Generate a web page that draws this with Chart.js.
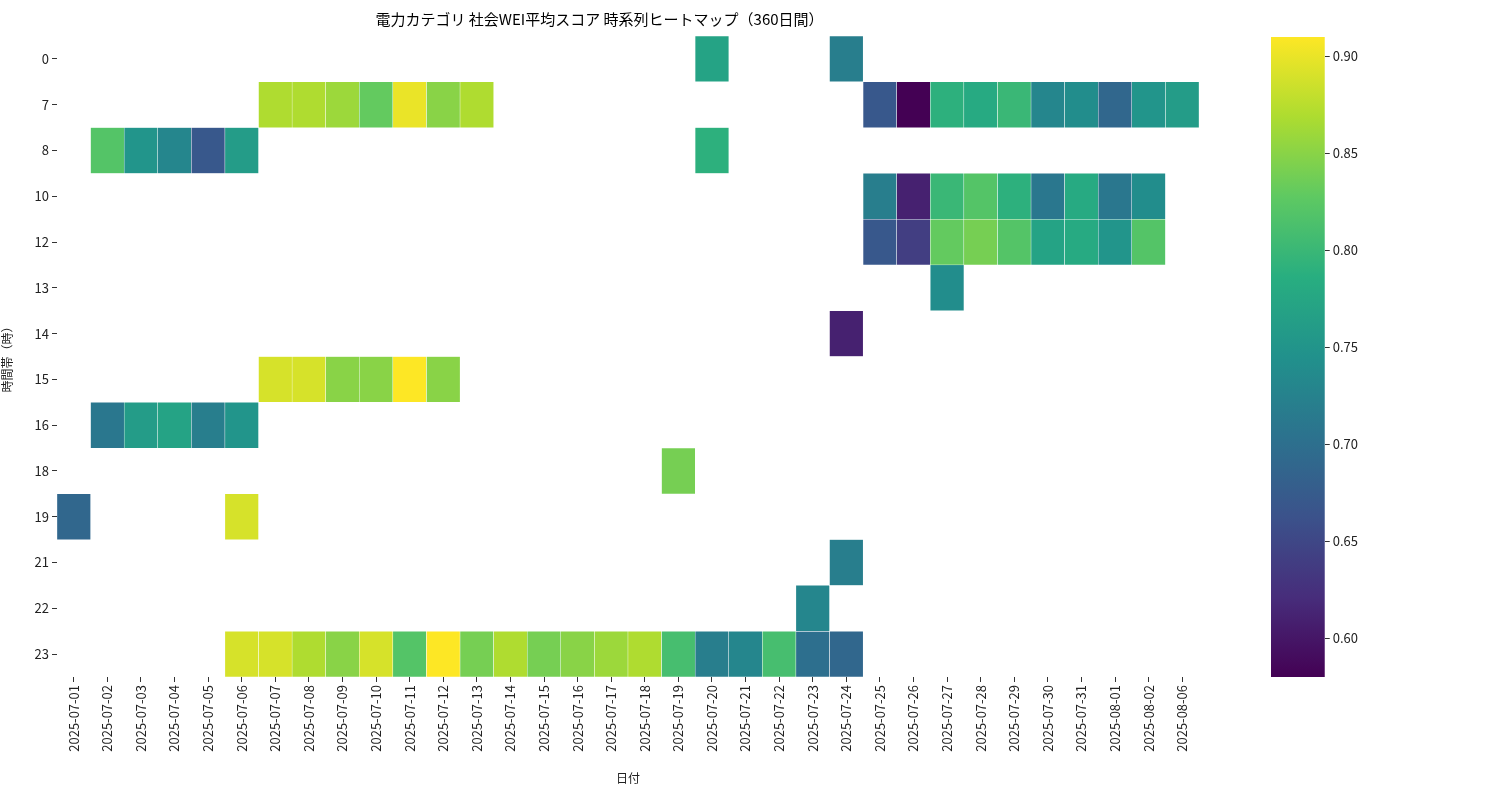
<!DOCTYPE html>
<html><head><meta charset="utf-8">
<script src="https://cdn.jsdelivr.net/npm/chart.js@4"></script>
<style>body{margin:0;background:#fff;font-family:"Noto Sans CJK JP",sans-serif}
#m{position:absolute;left:0;top:0;width:1225px;height:800px}
#c{position:absolute;left:1271px;top:0;width:90px;height:800px}</style>
</head><body>
<div id="m"><canvas id="mc"></canvas></div>
<div id="c"><canvas id="cc"></canvas></div>
<script>
const dates=["2025-07-01","2025-07-02","2025-07-03","2025-07-04","2025-07-05","2025-07-06","2025-07-07","2025-07-08","2025-07-09","2025-07-10","2025-07-11","2025-07-12","2025-07-13","2025-07-14","2025-07-15","2025-07-16","2025-07-17","2025-07-18","2025-07-19","2025-07-20","2025-07-21","2025-07-22","2025-07-23","2025-07-24","2025-07-25","2025-07-26","2025-07-27","2025-07-28","2025-07-29","2025-07-30","2025-07-31","2025-08-01","2025-08-02","2025-08-06"];
const hours=["0","7","8","10","12","13","14","15","16","18","19","21","22","23"];
const h0=[["07-20",0.77],["07-24",0.72]];
const h7=[["07-07",0.87],["07-08",0.87],["07-09",0.86],["07-10",0.83],["07-11",0.90],["07-12",0.85],["07-13",0.87],["07-25",0.67],["07-26",0.58],["07-27",0.79],["07-28",0.78],["07-29",0.80],["07-30",0.73],["07-31",0.74],["08-01",0.69],["08-02",0.75],["08-06",0.76]];
const h8=[["07-02",0.82],["07-03",0.75],["07-04",0.73],["07-05",0.67],["07-06",0.76],["07-20",0.79]];
const h10=[["07-25",0.72],["07-26",0.61],["07-27",0.80],["07-28",0.82],["07-29",0.79],["07-30",0.71],["07-31",0.78],["08-01",0.71],["08-02",0.74]];
const h12=[["07-25",0.67],["07-26",0.64],["07-27",0.83],["07-28",0.84],["07-29",0.82],["07-30",0.77],["07-31",0.78],["08-01",0.75],["08-02",0.82]];
const h13=[["07-27",0.74]];
const h14=[["07-24",0.61]];
const h15=[["07-07",0.89],["07-08",0.89],["07-09",0.85],["07-10",0.85],["07-11",0.91],["07-12",0.85]];
const h16=[["07-02",0.71],["07-03",0.76],["07-04",0.77],["07-05",0.72],["07-06",0.75]];
const h18=[["07-19",0.84]];
const h19=[["07-01",0.69],["07-06",0.89]];
const h21=[["07-24",0.72]];
const h22=[["07-23",0.73]];
const h23=[["07-06",0.89],["07-07",0.89],["07-08",0.87],["07-09",0.85],["07-10",0.89],["07-11",0.82],["07-12",0.91],["07-13",0.84],["07-14",0.87],["07-15",0.84],["07-16",0.85],["07-17",0.86],["07-18",0.87],["07-19",0.81],["07-20",0.72],["07-21",0.73],["07-22",0.81],["07-23",0.70],["07-24",0.69]];
const rows=[h0,h7,h8,h10,h12,h13,h14,h15,h16,h18,h19,h21,h22,h23];
const vmin=0.58,vmax=0.91;
const stops=["#440154","#472d7b","#3b528b","#2c728e","#21918c","#28ae80","#5ec962","#addc30","#fde725"];
function hex(h){return [1,3,5].map(i=>parseInt(h.substr(i,2),16));}
function viridis(v){let t=Math.max(0,Math.min(1,(v-vmin)/(vmax-vmin)))*8;let i=Math.min(7,Math.floor(t)),f=t-i;const a=hex(stops[i]),b=hex(stops[i+1]);return `rgb(${a.map((x,k)=>Math.round(x+(b[k]-x)*f)).join(',')})`;}
const font={family:"'Noto Sans CJK JP', sans-serif",size:13};
Chart.defaults.color='#222';
const datasets=rows.map((r,ri)=>{
  const vals=dates.map(d=>{const e=r.find(p=>"2025-"+p[0]===d);return e?e[1]:null;});
  return {label:hours[ri],data:vals.map(v=>v==null?null:[ri-0.5,ri+0.5]),
    backgroundColor:vals.map(v=>v==null?'rgba(0,0,0,0)':viridis(v)),
    borderColor:'#fff',borderWidth:0.5,borderSkipped:false,barPercentage:1,categoryPercentage:1,grouped:false};
});
new Chart(document.getElementById('mc'),{type:'bar',data:{labels:dates,datasets},
options:{responsive:true,maintainAspectRatio:false,animation:false,
 layout:{padding:{left:0,right:26,top:0,bottom:0}},
 plugins:{legend:{display:false},tooltip:{enabled:false},
  title:{display:true,text:"電力カテゴリ 社会WEI平均スコア 時系列ヒートマップ（360日間）",font:{...font,size:15,weight:'normal'},color:'#000',padding:{top:10,bottom:8}}},
 scales:{
  x:{offset:true,grid:{offset:false,drawOnChartArea:false,tickLength:5,color:'#333'},border:{display:false},afterFit:s=>{s.height=123;},
     ticks:{font,minRotation:90,maxRotation:90,color:'#222'},
     title:{display:true,text:"日付",font:{...font,size:12},padding:{top:0,bottom:14}}},
  y:{type:'linear',reverse:true,min:-0.5,max:13.5,afterFit:s=>{s.width=57;},
     afterBuildTicks:s=>{s.ticks=hours.map((h,i)=>({value:i}));},
     grid:{drawOnChartArea:false,tickLength:5,color:'#333'},border:{display:false},
     ticks:{autoSkip:false,font,callback:v=>hours[v]??''},
     title:{display:true,text:"時間帯（時）",font:{...font,size:12},padding:{top:0,bottom:8}}}
 }}});
new Chart(document.getElementById('cc'),{type:'bar',data:{labels:['c'],datasets:[{data:[[vmin,vmax]],barPercentage:1,categoryPercentage:1,
  backgroundColor:ctx=>{const a=ctx.chart.chartArea;if(!a)return stops[4];const g=ctx.chart.ctx.createLinearGradient(0,a.bottom,0,a.top);stops.forEach((s,i)=>g.addColorStop(i/8,s));return g;}}]},
options:{responsive:true,maintainAspectRatio:false,animation:false,
 layout:{padding:{top:37,bottom:123,left:0,right:0}},
 plugins:{legend:{display:false},tooltip:{enabled:false}},
 scales:{x:{display:false},
  y:{position:'right',min:vmin,max:vmax,grid:{drawOnChartArea:false,tickLength:5,color:'#333'},border:{display:false},
     ticks:{stepSize:0.05,font,callback:v=>v.toFixed(2)},afterBuildTicks:s=>{s.ticks=[0.6,0.65,0.7,0.75,0.8,0.85,0.9].map(v=>({value:v}));}}}}});
</script></body></html>
